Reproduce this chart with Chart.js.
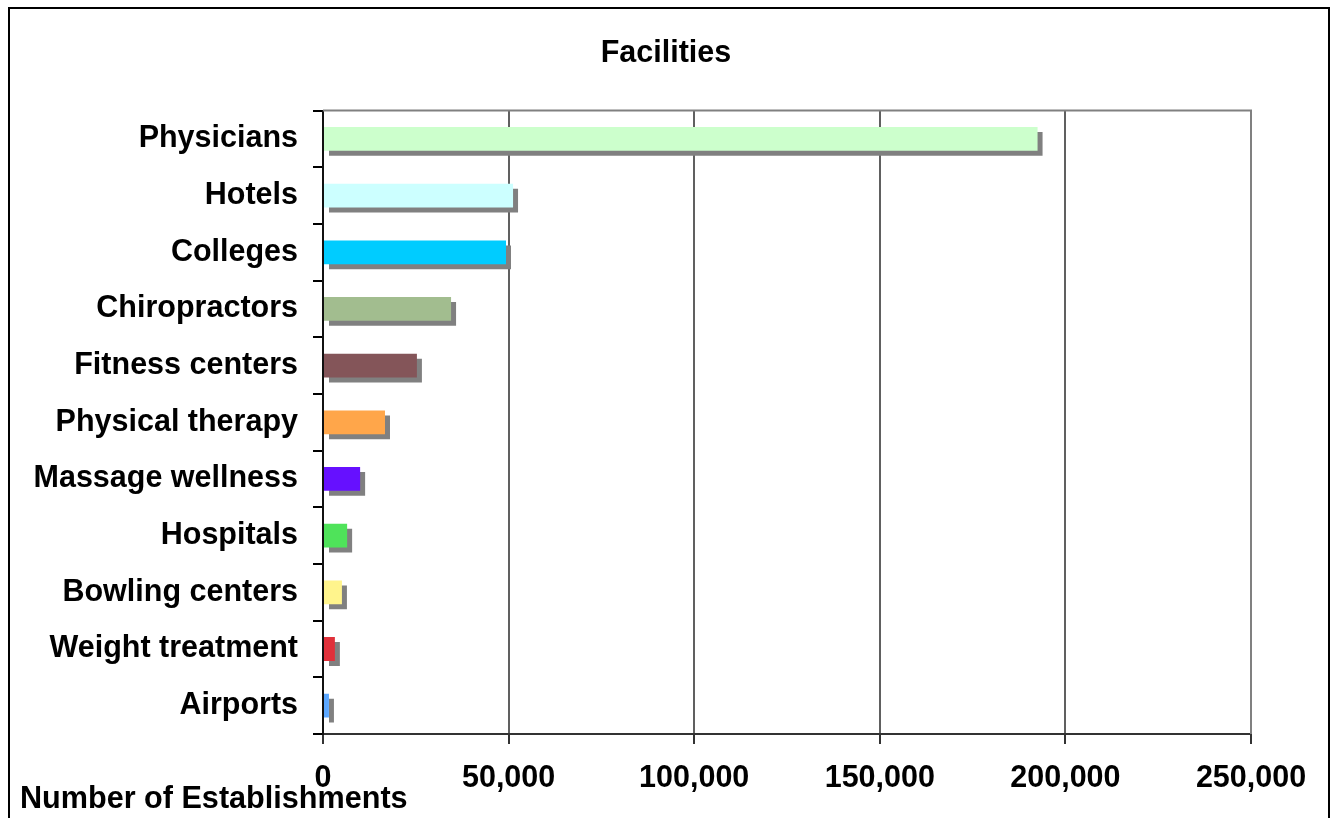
<!DOCTYPE html>
<html>
<head>
<meta charset="utf-8">
<script src="https://cdn.jsdelivr.net/npm/chart.js@4/dist/chart.umd.min.js"></script>
<style>
  html, body { margin: 0; padding: 0; background: #fff; overflow: hidden; }
  #wrap { position: relative; width: 1332px; height: 818px; }
  #frame { position: absolute; left: 8px; top: 7px; width: 1318px; height: 900px; border: 2px solid #000; pointer-events: none; }
  #xlabel { position: absolute; left: 20px; top: 782px; font: bold 30.6px "Liberation Sans", Arial, sans-serif; line-height: 30px; color: #000; white-space: nowrap; }
  canvas { position: absolute; left: 0; top: 0; }
</style>
</head>
<body>
<div id="wrap">
  <canvas id="c" width="1332" height="818"></canvas>
  <div id="frame"></div>
  <div id="xlabel">Number of Establishments</div>
</div>
<script>
const categories = ["Physicians", "Hotels", "Colleges", "Chiropractors", "Fitness centers", "Physical therapy", "Massage wellness", "Hospitals", "Bowling centers", "Weight treatment", "Airports"];
const establishments = [192500, 51200, 49300, 34500, 25300, 16700, 10000, 6500, 5100, 3200, 1600];
const barColors = ["#CCFFCC", "#CCFFFF", "#00CCFF", "#A2BD8F", "#845559", "#FFA64A", "#6610FF", "#4FE35A", "#FFF48C", "#E0303A", "#5BA7FF"];
const xTicks = [0, 50000, 100000, 150000, 200000, 250000];
const chartTitle = "Facilities";

const FONT = '"Liberation Sans", Arial, sans-serif';
const FSIZE = 30.5;

const shadowPlugin = {
  id: 'barShadow',
  beforeDatasetDraw(chart) {
    const ctx = chart.ctx;
    ctx.save();
    ctx.shadowColor = '#808080';
    ctx.shadowOffsetX = 5;
    ctx.shadowOffsetY = 5;
    ctx.shadowBlur = 0;
  },
  afterDatasetDraw(chart) {
    chart.ctx.restore();
  }
};

const plotBorder = {
  id: 'plotBorder',
  beforeDatasetsDraw(chart) {
    const { ctx, chartArea } = chart;
    ctx.save();
    ctx.strokeStyle = '#808080';
    ctx.lineWidth = 2;
    ctx.beginPath();
    ctx.moveTo(chartArea.left, chartArea.top);
    ctx.lineTo(chartArea.right, chartArea.top);
    ctx.lineTo(chartArea.right, chartArea.bottom);
    ctx.stroke();
    ctx.restore();
  }
};

new Chart(document.getElementById('c'), {
  type: 'bar',
  data: {
    labels: categories,
    datasets: [{
      data: establishments,
      backgroundColor: barColors,
      borderWidth: 0,
      categoryPercentage: 1,
      barPercentage: 0.42
    }]
  },
  options: {
    indexAxis: 'y',
    responsive: false,
    animation: false,
    devicePixelRatio: 1,
    layout: { padding: 0 },
    plugins: {
      legend: { display: false },
      tooltip: { enabled: false },
      title: {
        display: true,
        text: chartTitle,
        color: '#000',
        font: { family: FONT, size: FSIZE, weight: 'bold', lineHeight: 1.2 },
        padding: { top: 35, bottom: 39 }
      }
    },
    scales: {
      x: {
        type: 'linear',
        min: xTicks[0],
        max: xTicks[xTicks.length - 1],
        afterBuildTicks(scale) { scale.ticks = xTicks.map(v => ({ value: v })); },
        afterFit(scale) { scale.height = 84; },
        grid: {
          color: '#606060',
          lineWidth: 2,
          drawTicks: true,
          tickLength: 10,
          tickColor: '#333'
        },
        border: { display: true, color: '#333', width: 2 },
        ticks: {
          color: '#000',
          padding: 16,
          maxRotation: 0,
          autoSkip: false,
          font: { family: FONT, size: FSIZE, weight: 'bold' },
          callback: v => Number(v).toLocaleString('en-US')
        }
      },
      y: {
        afterFit(scale) { scale.width = 323; },
        grid: {
          drawOnChartArea: false,
          drawTicks: true,
          tickLength: 10,
          tickColor: '#000',
          lineWidth: 2
        },
        border: { display: true, color: '#111', width: 2 },
        ticks: {
          color: '#000',
          padding: 15,
          autoSkip: false,
          font: { family: FONT, size: FSIZE, weight: 'bold' }
        }
      },
      yRight: {
        type: 'category',
        position: 'right',
        display: true,
        afterFit(scale) { scale.width = 81; },
        grid: { display: false, drawTicks: false },
        border: { display: false },
        ticks: { display: false }
      }
    }
  },
  plugins: [shadowPlugin, plotBorder]
});
</script>
</body>
</html>
